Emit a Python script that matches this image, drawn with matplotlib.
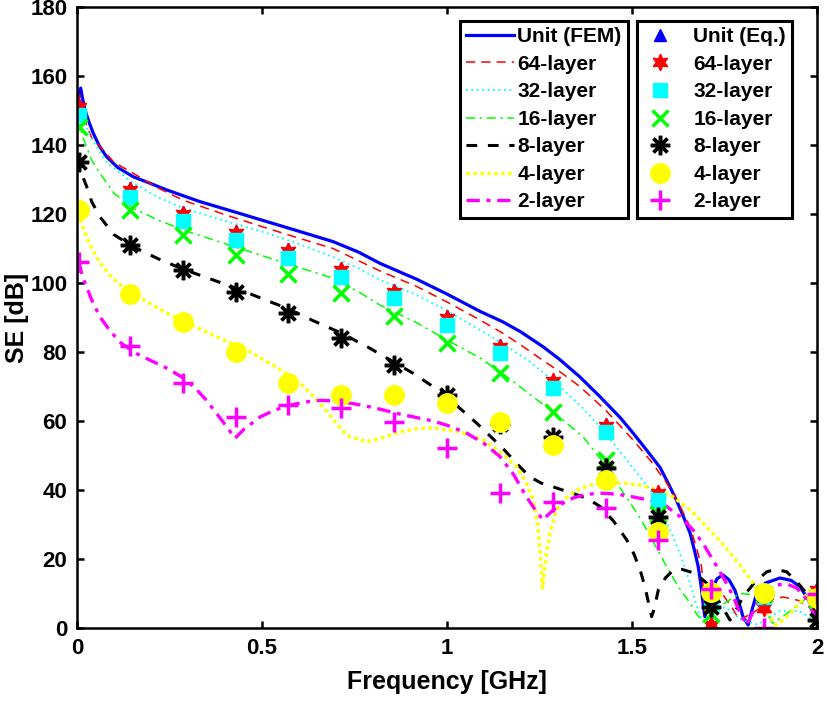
import matplotlib
matplotlib.use("Agg")
import matplotlib.pyplot as plt

plt.rcParams['font.family'] = ['Liberation Sans', 'DejaVu Sans']
plt.rcParams['font.weight'] = 'bold'

# ---------------- data: FEM curves ----------------
fem_f = [0.005, 0.01, 0.015, 0.022, 0.033, 0.044, 0.06, 0.08, 0.11, 0.152, 0.2, 0.242, 0.332,
         0.42, 0.513, 0.6, 0.692, 0.76, 0.819, 0.92, 1.0, 1.089, 1.15, 1.2, 1.26, 1.305, 1.359,
         1.414, 1.468, 1.503, 1.54, 1.576, 1.6, 1.62, 1.64, 1.657, 1.67, 1.679, 1.687, 1.692,
         1.697, 1.705, 1.715, 1.73, 1.746, 1.762, 1.778, 1.79, 1.8, 1.814, 1.825, 1.837, 1.86,
         1.9, 1.93, 1.954, 1.975, 2.0]
fem_se = [154, 156.5, 153.5, 150, 146.5, 143.4, 139.8, 136.6, 133.5, 130.8, 128.8, 127, 123.6,
          120.8, 117.8, 115, 112, 109, 105.7, 101, 96.8, 91.8, 88.8, 85.8, 81.5, 77.8, 72.8,
          67, 61, 56.5, 51.5, 46.5, 41.5, 37.1, 32, 27.5, 22, 17.8, 12, 7.2,
          3.3, 7, 11, 14.3, 15.4, 14, 11, 7, 3.3, 0.9, 5.5, 10, 13,
          14.5, 13.8, 12, 8.5, 3.5]

l64_f = [0.005, 0.008, 0.015, 0.025, 0.04, 0.062, 0.1, 0.152, 0.22, 0.287, 0.4, 0.513, 0.6,
         0.692, 0.76, 0.819, 0.918, 1.0, 1.089, 1.15, 1.2, 1.26, 1.305, 1.359, 1.43, 1.503,
         1.55, 1.594, 1.627, 1.657, 1.675, 1.688, 1.694, 1.697, 1.705, 1.72, 1.746, 1.77, 1.79,
         1.82, 1.85, 1.88, 1.908, 1.95, 2.0]
l64_se = [152, 154.5, 151, 146, 142, 139.5, 135, 131.8, 127.5, 124, 119.8, 115.9, 113,
          110, 106.5, 103.5, 99, 94.5, 89.3, 85.5, 82, 77.5, 74.3, 70, 63, 54.5,
          48.5, 42, 36, 29.3, 23, 17.8, 10, 4.3, 6, 8, 9.6, 6, 2.3,
          4, 6, 8.3, 9, 8, 4.6]

l32_f = [0.005, 0.008, 0.02, 0.044, 0.08, 0.152, 0.22, 0.287, 0.4, 0.513, 0.6, 0.692, 0.76,
         0.819, 0.918, 1.0, 1.089, 1.15, 1.224, 1.3, 1.36, 1.414, 1.48, 1.549, 1.58, 1.611,
         1.635, 1.657, 1.672, 1.684, 1.7, 1.72, 1.75, 1.775, 1.79, 1.84, 1.87, 1.9, 1.95, 2.0]
l32_se = [150, 152, 146.5, 141, 135, 128.9, 124.8, 121.7, 118, 114.5, 111.3, 107.5, 104.3,
          100.9, 96.5, 92, 86.4, 82.5, 77.2, 70.5, 64.5, 58.3, 49.5, 40, 33.5, 26.5,
          20, 13, 7.5, 3.3, 2.5, 4, 6, 4.5, 2.5, 1, 3, 5, 5, 2]

l16_f = [0.005, 0.008, 0.015, 0.026, 0.04, 0.062, 0.1, 0.152, 0.22, 0.287, 0.4, 0.513, 0.6,
         0.692, 0.76, 0.819, 0.918, 1.008, 1.089, 1.16, 1.233, 1.3, 1.368, 1.415, 1.459, 1.5,
         1.53, 1.565, 1.594, 1.625, 1.657, 1.675, 1.692, 1.715, 1.74, 1.79, 1.84, 1.86, 1.88,
         1.91, 1.94, 1.97, 2.0]
l16_se = [144, 146, 142.5, 139.5, 135.5, 131.8, 126, 121.7, 118.2, 115.4, 111.4, 107.5, 104.5,
          101.4, 97.5, 93.6, 88.5, 83, 78.3, 73, 67, 61.5, 55.4, 49, 42, 35.5,
          30.4, 23.5, 17.7, 12, 7.2, 4, 1.8, 4, 6.5, 10, 9.6, 5, 1.4,
          3.5, 6, 8.5, 11]

l8_f = [0.005, 0.008, 0.015, 0.026, 0.04, 0.062, 0.1, 0.152, 0.22, 0.287, 0.36, 0.43, 0.5,
        0.571, 0.64, 0.714, 0.785, 0.857, 0.909, 0.955, 1.0, 1.04, 1.08, 1.15, 1.19, 1.224,
        1.255, 1.287, 1.341, 1.38, 1.414, 1.45, 1.486, 1.505, 1.522, 1.535, 1.543, 1.553,
        1.56, 1.571, 1.59, 1.612, 1.635, 1.657, 1.68, 1.702, 1.72, 1.738, 1.765, 1.78, 1.8,
        1.83, 1.864, 1.89, 1.918, 1.945, 1.972, 2.0]
l8_se = [133, 134.7, 131, 128, 123.5, 119.2, 114, 110.5, 107, 104, 101.2, 98.5, 95.5,
         92.5, 89, 85.5, 81.5, 77, 73.8, 70.5, 67, 63.2, 59.4, 52.2, 47.5, 43.8,
         42, 40.9, 39, 37.5, 35.2, 31, 25.5, 21.5, 16.8, 12, 8.1, 3.3,
         5.5, 11, 14.5, 16.8, 17, 16.3, 15, 13, 10.2, 7.2, 2.3, 5, 9,
         13, 16.3, 17, 16.3, 13.5, 10, 3.3]

l4_f = [0.005, 0.008, 0.015, 0.026, 0.04, 0.062, 0.095, 0.134, 0.19, 0.242, 0.31, 0.377, 0.459,
        0.53, 0.603, 0.65, 0.692, 0.72, 0.738, 0.783, 0.83, 0.873, 0.92, 0.963, 1.03, 1.098,
        1.15, 1.188, 1.215, 1.233, 1.245, 1.251, 1.258, 1.265, 1.27, 1.28, 1.296, 1.32, 1.35,
        1.39, 1.432, 1.48, 1.522, 1.57, 1.611, 1.66, 1.702, 1.74, 1.774, 1.8, 1.828, 1.848,
        1.864, 1.878, 1.891, 1.91, 1.936, 1.96, 1.981, 2.0]
l4_se = [118, 119.2, 116.5, 113.4, 110, 105.8, 101.5, 98, 94.5, 91.3, 87.8, 84.4, 80.6,
         76.2, 71, 66, 60.5, 57, 55.4, 54, 55.3, 56.9, 57.8, 58, 57, 54.5,
         50.5, 46.8, 42, 37.1, 30, 22.6, 11.6, 18, 22.6, 28.5, 34.2, 37.5, 40,
         41.5, 42, 42, 41.4, 40, 38, 34, 29.3, 25, 20.6, 17, 13, 9,
         5.2, 2.5, 0.9, 2.5, 5.2, 8, 11, 12]

l2_f = [0.005, 0.008, 0.015, 0.026, 0.04, 0.062, 0.09, 0.12, 0.16, 0.2, 0.245, 0.287, 0.32,
        0.35, 0.375, 0.4, 0.427, 0.45, 0.495, 0.535, 0.576, 0.615, 0.657, 0.7, 0.738, 0.783,
        0.828, 0.873, 0.918, 0.963, 1.008, 1.053, 1.1, 1.143, 1.18, 1.215, 1.24, 1.26, 1.27,
        1.287, 1.315, 1.341, 1.375, 1.414, 1.46, 1.503, 1.55, 1.594, 1.63, 1.665, 1.692,
        1.719, 1.742, 1.765, 1.78, 1.792, 1.81, 1.822, 1.837, 1.86, 1.891, 1.92, 1.945, 1.97,
        1.99, 2.0]
l2_se = [103, 104.7, 101.8, 98.9, 95, 90.2, 86, 82.5, 79.6, 77.5, 75.2, 72.5, 69.5,
         66, 62.5, 59, 55, 57.5, 61.2, 63.2, 64.6, 65.5, 66, 65.8, 65.2, 64.3,
         63.2, 62, 61, 60, 58.5, 56.5, 53.5, 49.7, 44.5, 38, 34, 31.3, 32.5,
         34.2, 36.3, 37.7, 38.7, 39.1, 38.8, 38, 37, 35.2, 32.3, 28.4, 24.5,
         19.7, 15.5, 11, 7.5, 4.3, 0.9, 3.5, 7.2, 10.5, 12.5, 12.7, 11.6, 8.5,
         4.3, 3]

# ---------------- data: equation points ----------------
eq_f = [0.005, 0.143, 0.286, 0.429, 0.571, 0.714, 0.857, 1.0, 1.143, 1.286, 1.429, 1.571,
        1.714, 1.857, 2.0]
eq_unit = [151.5, 127.5, 120.5, 115, 110, 104.3, 98, 90.3, 82, 72, 59, 39.5, 1.5, 6.3, 11.5]
eq_64 = [151, 127, 120, 114.5, 109.4, 103.8, 97.5, 89.8, 81.5, 71.5, 58.5, 39, 1, 5.8, 11]
eq_32 = [148.7, 125, 118.1, 112.5, 107.2, 101.8, 95.6, 87.8, 79.7, 69.6, 56.8, 37.1, 8, 9, 9]
eq_16 = [145.3, 121.2, 113.9, 108.1, 102.6, 97.1, 90.4, 82.6, 73.8, 62.7, 48.7, 33, 4, 10, 8]
eq_8 = [135.2, 111, 103.8, 97.5, 91.4, 84, 76.2, 67.5, 59, 55.5, 46.4, 32.3, 6, 10, 2.3]
eq_4 = [121.3, 96.8, 88.8, 80, 70.9, 67.5, 67.5, 65.2, 59.8, 53, 42.9, 27.9, 10.5, 10.1, 8.7]
eq_2 = [106.2, 81.7, 71, 61.2, 64.6, 63.8, 59.8, 52.2, 39.1, 36.6, 34.8, 25.5, 11.3, 0, 10]

labels_fem = ['Unit (FEM)', '64-layer', '32-layer', '16-layer', '8-layer', '4-layer', '2-layer']
labels_eq = ['Unit (Eq.)', '64-layer', '32-layer', '16-layer', '8-layer', '4-layer', '2-layer']

x_ticks = [0, 0.5, 1, 1.5, 2]
x_ticklabels = ['0', '0.5', '1', '1.5', '2']
y_ticks = [0, 20, 40, 60, 80, 100, 120, 140, 160, 180]

# ---------------- figure ----------------
fig = plt.figure(figsize=(8.27, 7.01), dpi=100)
ax = fig.add_axes([0.0931, 0.1041, 0.8948, 0.8859])

line_specs = [
    (fem_f, fem_se, dict(color='#0000ff', ls='-', lw=2.3)),
    (l64_f, l64_se, dict(color='#ff0000', ls=(0, (6, 4)), lw=1.1)),
    (l32_f, l32_se, dict(color='#00ffff', ls=(0, (1, 2)), lw=1.3)),
    (l16_f, l16_se, dict(color='#00ff00', ls=(0, (6, 3, 1.5, 3)), lw=1.1)),
    (l8_f, l8_se, dict(color='#000000', ls=(0, (3.5, 3.5)), lw=2.2)),
    (l4_f, l4_se, dict(color='#ffff00', ls=(0, (1, 1)), lw=2.5)),
    (l2_f, l2_se, dict(color='#ff00ff', ls=(0, (4, 2, 1.2, 2)), lw=2.4)),
]
line_handles = []
for (fx, fy, st), lab in zip(line_specs, labels_fem):
    h, = ax.plot(fx, fy, label=lab, **st)
    line_handles.append(h)

marker_specs = [
    (eq_unit, dict(marker='^', color='#0000ff', ms=8)),
    (eq_64, dict(marker=(6, 1, 0), color='#ff0000', ms=12)),
    (eq_32, dict(marker='s', color='#00ffff', ms=10)),
    (eq_16, dict(marker='x', color='#00ff00', ms=11, mew=2.5)),
    (eq_8, dict(marker=(8, 2, 0), color='#000000', ms=14, mew=2.5)),
    (eq_4, dict(marker='o', color='#ffff00', ms=14)),
    (eq_2, dict(marker='+', color='#ff00ff', ms=15, mew=2.5)),
]
marker_handles = []
for (vals, st), lab in zip(marker_specs, labels_eq):
    h, = ax.plot(eq_f, vals, ls='none', label=lab, **st)
    marker_handles.append(h)

ax.set_xlim(0, 2)
ax.set_ylim(0, 180)
ax.set_xticks(x_ticks)
ax.set_xticklabels(x_ticklabels)
ax.set_yticks(y_ticks)
ax.tick_params(direction='in', length=5, width=1.8, labelsize=16, top=True, right=True, pad=7)
for lab in ax.get_xticklabels() + ax.get_yticklabels():
    lab.set_fontweight('bold')
for sp in ax.spines.values():
    sp.set_linewidth(1.8)

ax.set_xlabel('Frequency [GHz]', fontsize=18, fontweight='bold', labelpad=8)
ax.set_ylabel('SE [dB]', fontsize=18, fontweight='bold', labelpad=1)

leg_kw = dict(frameon=True, fancybox=False, framealpha=1, edgecolor='black',
              loc='upper left', borderaxespad=0, labelspacing=0.41, borderpad=0.3,
              prop={'weight': 'bold', 'size': 15})
leg1 = ax.legend(handles=line_handles, bbox_to_anchor=(0.5176, 0.9775),
                 handlelength=2.3, handletextpad=0.15, **leg_kw)
leg1.get_frame().set_linewidth(2.2)
ax.add_artist(leg1)
leg2 = ax.legend(handles=marker_handles, bbox_to_anchor=(0.757, 0.9775),
                 handlelength=1.6, handletextpad=0.8, **leg_kw)
leg2.get_frame().set_linewidth(2.2)

fig.savefig('out.png', dpi=100)
